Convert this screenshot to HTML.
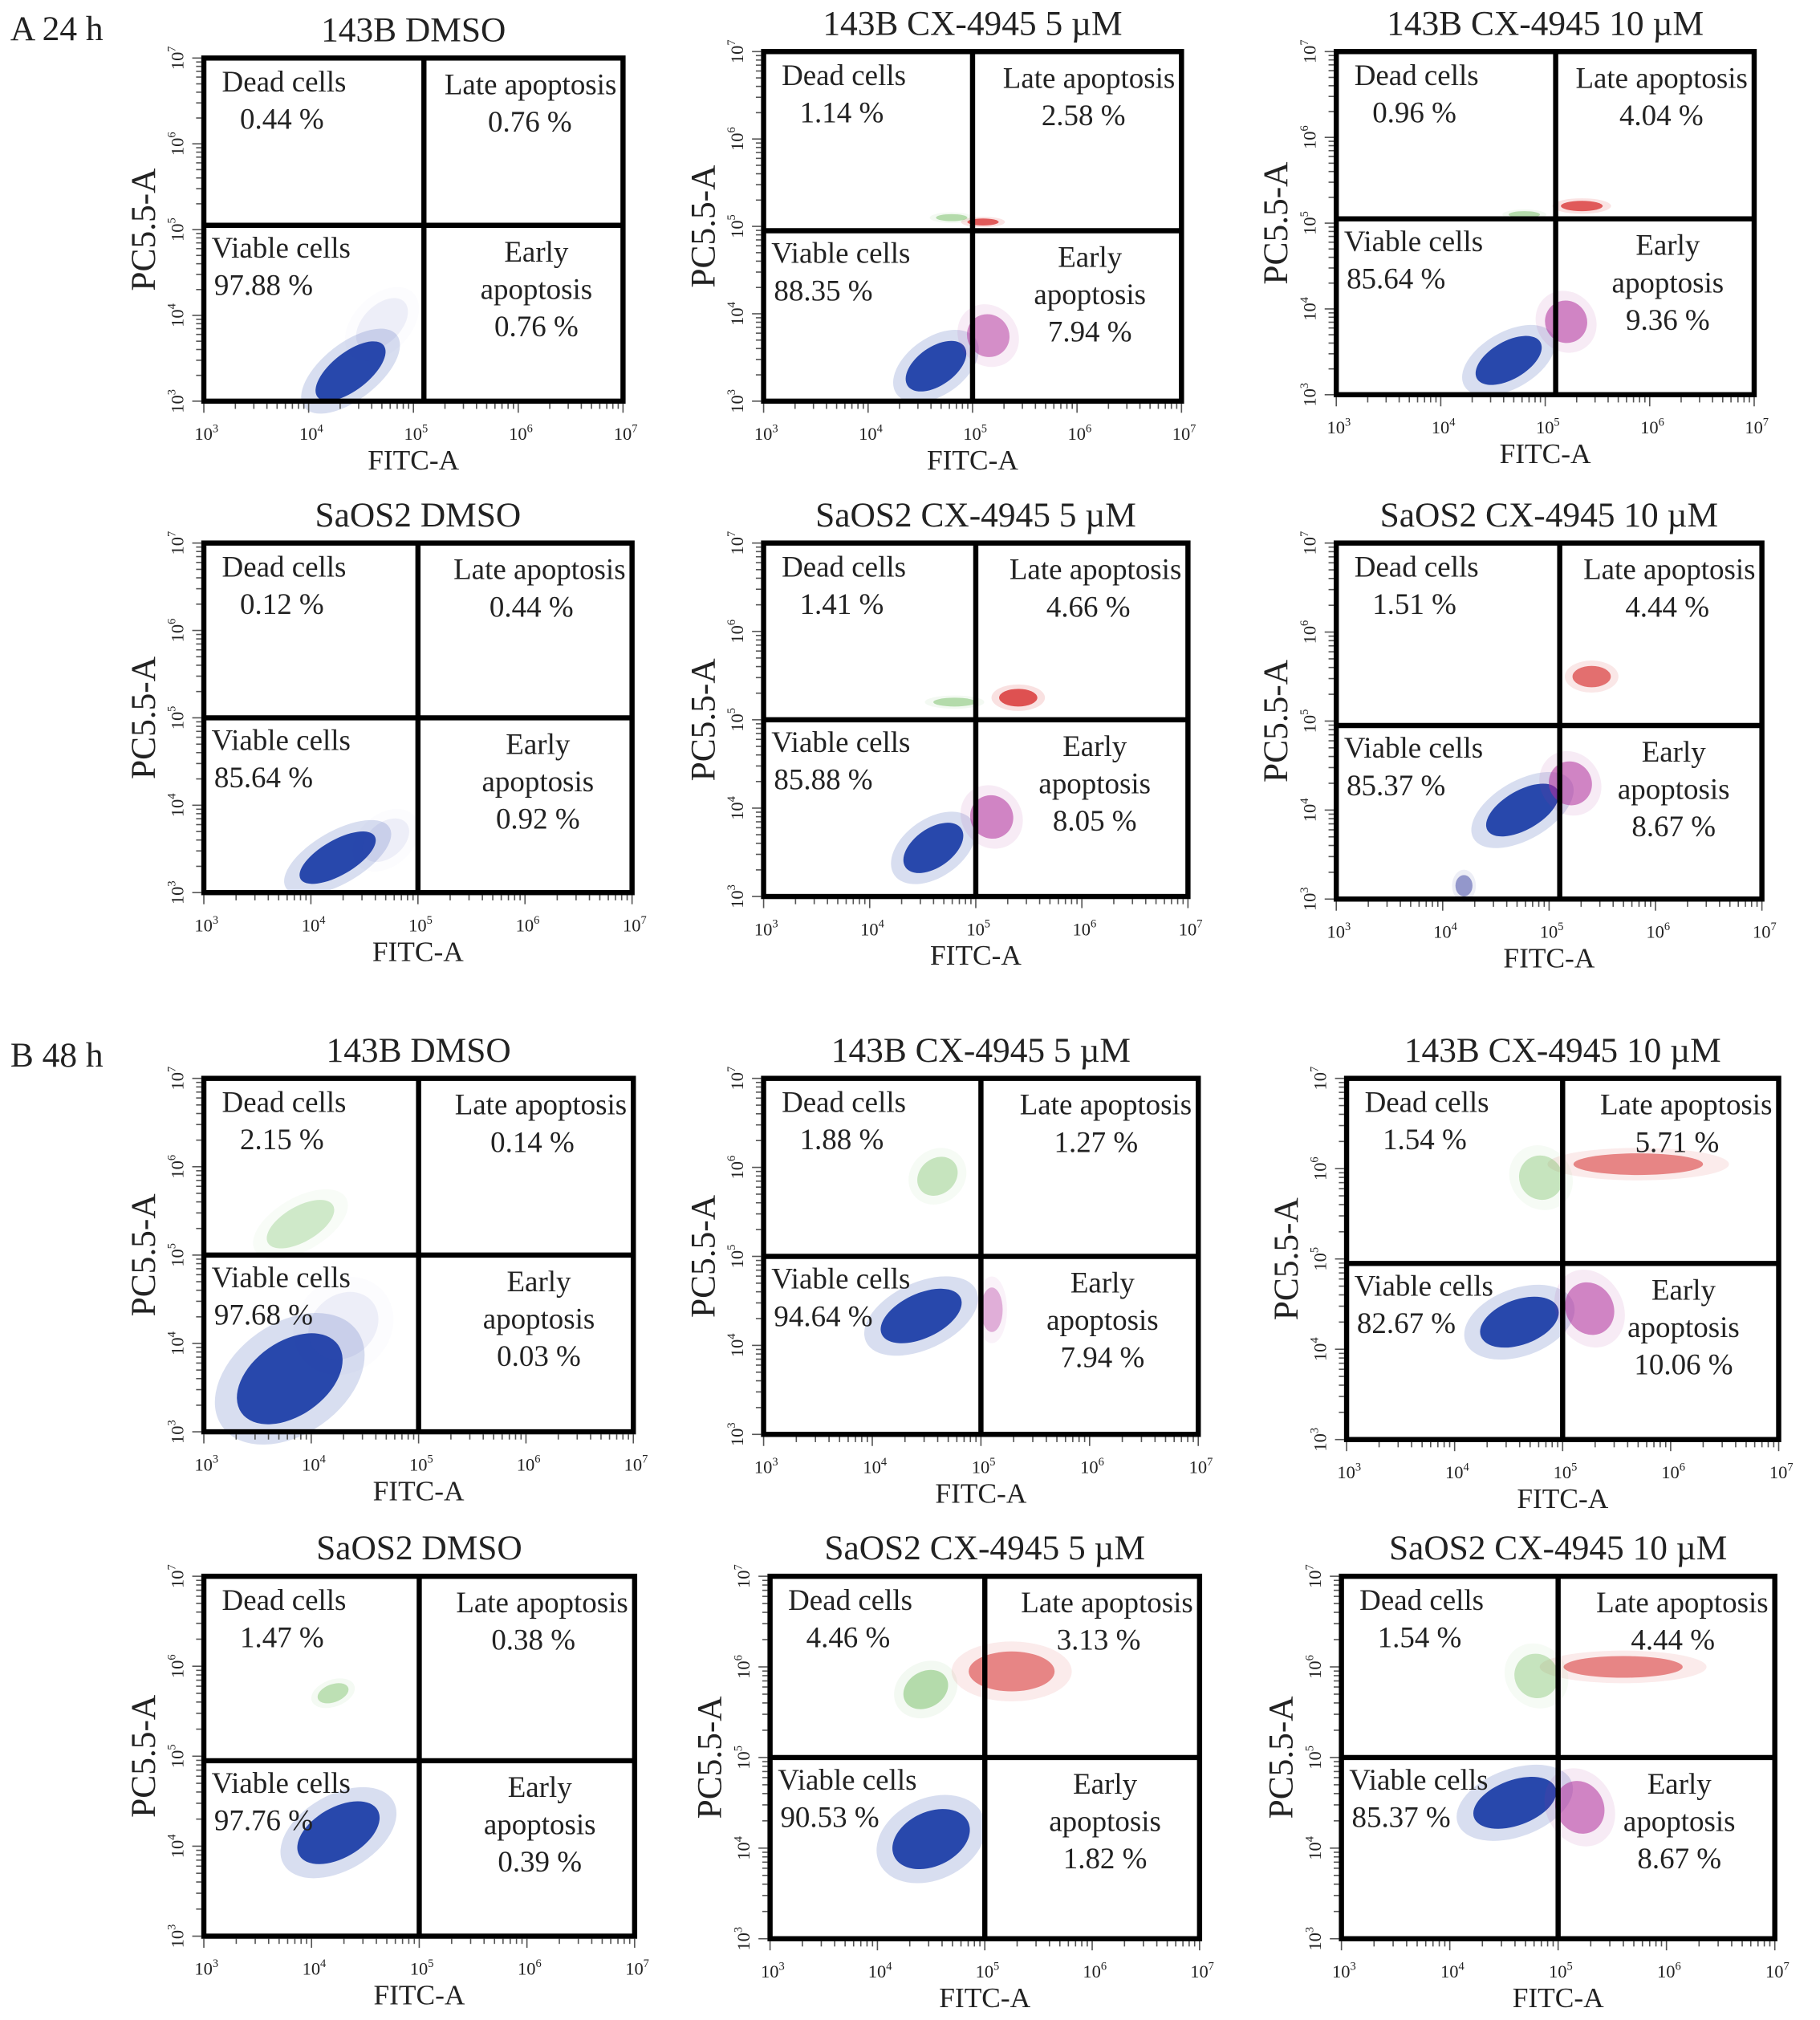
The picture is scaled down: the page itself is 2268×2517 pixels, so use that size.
<!DOCTYPE html>
<html><head><meta charset="utf-8">
<style>
html,body{margin:0;padding:0;background:#fff;}
svg{display:block;}
text{font-family:"Liberation Serif",serif;fill:#222;}
</style></head>
<body>
<svg id="fig" width="2268" height="2517" viewBox="0 0 1411 1566" xmlns="http://www.w3.org/2000/svg">
<text x="8" y="31" font-size="27">A 24 h</text>
<text x="8" y="827" font-size="27">B 48 h</text>
</svg>
<script>
// panel titles
const titles = ["143B DMSO","143B CX-4945 5 µM","143B CX-4945 10 µM","SaOS2 DMSO","SaOS2 CX-4945 5 µM","SaOS2 CX-4945 10 µM",
"143B DMSO","143B CX-4945 5 µM","143B CX-4945 10 µM","SaOS2 DMSO","SaOS2 CX-4945 5 µM","SaOS2 CX-4945 10 µM"];
// quadrant percentages: dead, late, viable, early
const deadPct =   ["0.44","1.14","0.96","0.12","1.41","1.51","2.15","1.88","1.54","1.47","4.46","1.54"];
const latePct =   ["0.76","2.58","4.04","0.44","4.66","4.44","0.14","1.27","5.71","0.38","3.13","4.44"];
const viablePct = ["97.88","88.35","85.64","85.64","85.88","85.37","97.68","94.64","82.67","97.76","90.53","85.37"];
const earlyPct =  ["0.76","7.94","9.36","0.92","8.05","8.67","0.03","7.94","10.06","0.39","1.82","8.67"];
// quadrant gate positions (log10 units)
const gateX = [5.1,5.0,5.1,5.0,5.0,5.1,5.0,5.0,5.0,5.0,5.0,5.0];
const gateY = [5.05,4.95,5.05,5.0,5.0,4.95,5.0,5.0,4.95,4.95,5.0,5.0];
// population clusters: panel, log x, log y, radius x (decades), radius y, angle, color, opacity
const clusterPanel = [0,0, 1,1,1,1, 2,2,2,2, 3,3, 4,4,4,4, 5,5,5,5, 6,6,6, 7,7,7, 8,8,8,8, 9,9, 10,10,10, 11,11,11,11];
const clusterX =     [4.4,4.7, 4.65,5.15,5.1,4.8, 4.65,5.2,5.35,4.8, 4.25,4.7, 4.6,5.15,5.4,4.8, 4.75,5.2,5.4,4.2, 3.8,3.9,4.3, 4.45,5.1,4.6, 4.6,5.25,5.7,4.8, 4.25,4.2, 4.5,4.45,5.25, 4.6,5.2,5.6,4.8];
const clusterY =     [3.35,3.9, 3.4,3.75,5.05,5.1, 3.4,3.85,5.2,5.1, 3.4,3.6, 3.55,3.9,5.25,5.2, 4.0,4.3,5.5,3.15, 3.6,5.35,4.2, 4.33,4.4,5.9, 4.3,4.45,6.05,5.9, 4.15,5.7, 4.1,5.75,5.95, 4.5,4.45,6.0,5.9];
const clusterRx =    [0.4,0.3, 0.33,0.2,0.15,0.15, 0.35,0.2,0.2,0.15, 0.4,0.25, 0.32,0.2,0.18,0.2, 0.38,0.2,0.18,0.08, 0.55,0.35,0.35, 0.4,0.1,0.2, 0.38,0.22,0.6,0.2, 0.42,0.15, 0.38,0.22,0.4, 0.4,0.22,0.55,0.2];
const clusterRy =    [0.22,0.22, 0.22,0.25,0.04,0.04, 0.22,0.25,0.06,0.04, 0.2,0.2, 0.22,0.25,0.1,0.05, 0.22,0.25,0.12,0.12, 0.42,0.2,0.35, 0.25,0.25,0.2, 0.25,0.3,0.12,0.25, 0.28,0.1, 0.3,0.2,0.22, 0.25,0.3,0.12,0.25];
const clusterAng =   [-38,-45, -35,-40,0,0, -30,-40,0,0, -30,-40, -35,-40,0,0, -30,-35,0,0, -35,-30,-40, -25,0,-40, -20,-30,0,-40, -30,-20, -25,-30,0, -20,-30,0,-40];
const clusterColor = ["#1f3fa8","#3a4fb0", "#1f3fa8","#b0309a","#d42020","#55b040", "#1f3fa8","#b0309a","#d42020","#55b040", "#1f3fa8","#3a4fb0", "#1f3fa8","#b0309a","#d42020","#55b040", "#1f3fa8","#b0309a","#d42020","#3a3fa0", "#1f3fa8","#55b040","#3a4fb0", "#1f3fa8","#b0309a","#55b040", "#1f3fa8","#b0309a","#d42020","#55b040", "#1f3fa8","#55b040", "#1f3fa8","#55b040","#d42020", "#1f3fa8","#b0309a","#d42020","#55b040"];
const clusterOp =    [0.95,0.08, 0.95,0.5,0.7,0.4, 0.95,0.55,0.7,0.4, 0.95,0.08, 0.95,0.55,0.75,0.4, 0.95,0.55,0.6,0.5, 0.95,0.25,0.08, 0.95,0.35,0.3, 0.95,0.55,0.5,0.3, 0.95,0.35, 0.95,0.4,0.5, 0.95,0.55,0.5,0.3];
// axis ticks (log10 exponents)
const tickExp = [3,4,5,6,7];
// panel boxes [left, top, right, bottom] in figure units
const boxL = [158,592,1036,158,592,1036,158,592,1044,158,597,1040];
const boxT = [45,40,40,421,421,421,836,836,836,1222,1222,1222];
const boxR = [483,916,1360,490,921,1366,491,929,1379,492,930,1376];
const boxB = [311,311,306,692,695,697,1110,1112,1116,1501,1503,1503];

const NS="http://www.w3.org/2000/svg";
const svg=document.getElementById('fig');
function mk(tag,attrs,parent){const e=document.createElementNS(NS,tag);for(const k in attrs)e.setAttribute(k,attrs[k]);(parent||svg).appendChild(e);return e;}
function txt(x,y,s,size,parent,anchor){const t=mk('text',{x:x,y:y,'font-size':size,'text-anchor':anchor||'start'},parent);t.textContent=s;return t;}
function sup(parent,x,y,e,rot){
  const g=mk('g',{transform:rot?`translate(${x},${y}) rotate(-90)`:`translate(${x},${y})`},parent);
  const t=mk('text',{x:0,y:0,'font-size':14,'text-anchor':'middle',fill:'#444'},g);
  t.textContent='10';
  const s=mk('tspan',{dy:-6,'font-size':9},t);s.textContent=e;
  return g;
}

for(let p=0;p<12;p++){
  const L=boxL[p],T=boxT[p],R=boxR[p],B=boxB[p];
  const sx=v=>L+(v-3)/4*(R-L);
  const sy=v=>B-(v-3)/4*(B-T);
  const g=mk('g',{});
  
  
  const tt=txt((L+R)/2,T-13,titles[p],27,g,'middle');
  
  
  const cg=mk('g',{},g);
  
  
  for(let i=0;i<clusterPanel.length;i++){
    if(clusterPanel[i]!==p)continue;
    const cx=sx(clusterX[i]),cy=sy(clusterY[i]);
    const rx=clusterRx[i]/4*(R-L),ry=clusterRy[i]/4*(B-T);
    const halo=mk('ellipse',{cx:cx,cy:cy,rx:rx*1.4,ry:ry*1.5,fill:clusterColor[i],opacity:clusterOp[i]*0.18,transform:`rotate(${clusterAng[i]} ${cx} ${cy})`},cg);
    
    
    const el=mk('ellipse',{cx:cx,cy:cy,rx:rx,ry:ry,fill:clusterColor[i],opacity:clusterOp[i],transform:`rotate(${clusterAng[i]} ${cx} ${cy})`},cg);
    
    
  }
  const ag=mk('g',{stroke:'#555','stroke-width':1},g);
  
  
  for(let d=3;d<7;d++){
    for(let m=1;m<10;m++){
      const v=d+Math.log10(m);
      const len=m===1?7:4;
      mk('line',{x1:sx(v),x2:sx(v),y1:B+2,y2:B+2+len},ag);
      mk('line',{x1:L-2,x2:L-2-len,y1:sy(v),y2:sy(v)},ag);
    }
  }
  mk('line',{x1:sx(7),x2:sx(7),y1:B+2,y2:B+9},ag);
  mk('line',{x1:L-2,x2:L-9,y1:sy(7),y2:sy(7)},ag);
  for(const e of tickExp){
    const a=sup(g,sx(e)+2,B+30,e,false);
    
    
    const b=sup(g,L-16,sy(e),e,true);
    
    
  }
  const bx=mk('rect',{x:L,y:T,width:R-L,height:B-T,fill:'none',stroke:'#000','stroke-width':4},g);
  
  
  const gx=sx(gateX[p]),gy=sy(gateY[p]);
  const vl=mk('line',{x1:gx,x2:gx,y1:T,y2:B,stroke:'#000','stroke-width':4},g);
  
  
  const hl=mk('line',{x1:L,x2:R,y1:gy,y2:gy,stroke:'#000','stroke-width':4},g);
  
  
  const xt=txt((L+R)/2,B+53,'FITC-A',22,g,'middle');
  
  
  const yg=mk('g',{transform:`translate(${L-38},${(T+B)/2}) rotate(-90)`},g);
  const yt=txt(0,0,'PC5.5-A',27,yg,'middle');
  
  
  const fs=23;
  const q1=txt(L+14,T+26,'Dead cells',fs,g);
  
  
  const q1p=txt(L+28,T+55,deadPct[p]+' %',fs,g);
  
  
  const q2=txt(R-5,T+28,'Late apoptosis',fs,g,'end');
  
  
  const q2p=txt((gx+R)/2+5,T+57,latePct[p]+' %',fs,g,'middle');
  
  
  const q3=txt(L+6,gy+25,'Viable cells',fs,g);
  
  
  const q3p=txt(L+8,gy+54,viablePct[p]+' %',fs,g);
  
  
  const ex=(gx+R)/2+10;
  const q4=txt(ex,gy+28,'Early',fs,g,'middle');
  
  
  const q4b=txt(ex,gy+57,'apoptosis',fs,g,'middle');
  
  
  const q4p=txt(ex,gy+86,earlyPct[p]+' %',fs,g,'middle');
  
  
}
</script>
</body></html>
